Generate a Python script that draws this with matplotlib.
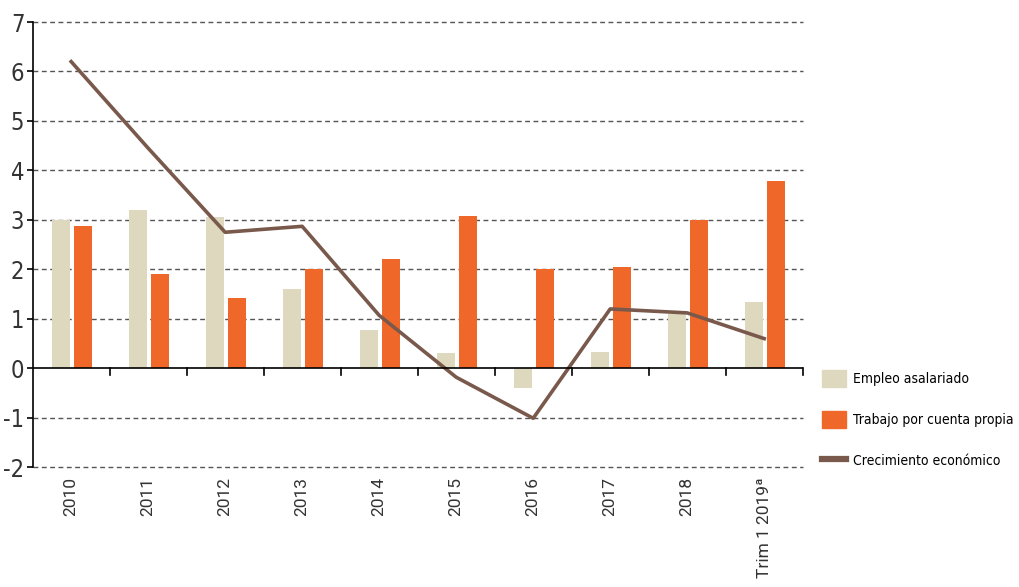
import numpy as np
import matplotlib.pyplot as plt
from matplotlib.patches import Patch
from matplotlib.lines import Line2D

years = ['2010', '2011', '2012', '2013', '2014', '2015', '2016', '2017', '2018', 'Trim 1 2019ª']
empleo = [3.0, 3.2, 3.05, 1.6, 0.78, 0.3, -0.4, 0.33, 1.1, 1.35]
cuenta_propia = [2.87, 1.9, 1.42, 2.0, 2.2, 3.07, 2.0, 2.05, 3.0, 3.78]
crecimiento = [6.2, 4.45, 2.75, 2.87, 1.07, -0.18, -1.01, 1.2, 1.12, 0.6]

c_beige = '#DDD8BE'
c_orange = '#F0672A'
c_brown = '#79594C'

narrow = {'family': 'DejaVu Sans', 'stretch': 'condensed'}

fig = plt.figure(figsize=(10.2, 5.87), dpi=100)
ax = fig.add_axes([0.032, 0.204, 0.755, 0.7585])

x = np.arange(len(years))
w = 0.23
ax.bar(x - 0.13, empleo, width=w, color=c_beige, zorder=2)
ax.bar(x + 0.15, cuenta_propia, width=w, color=c_orange, zorder=2)
ax.plot(x, crecimiento, color=c_brown, linewidth=2.6, zorder=3)

ax.set_xlim(-0.5, len(years) - 0.5)
ax.set_ylim(-2, 7)

# dashed guides at every integer, solid zero line with boundary ticks
for v in range(-2, 8):
    if v != 0:
        ax.axhline(v, color='#555555', linestyle=(0, (3.5, 2.5)), linewidth=1.0,
                   zorder=1, clip_on=False)
ax.axhline(0, color='black', linewidth=1.2, zorder=4)
for b in np.arange(0.5, len(years), 1.0):
    ax.plot([b, b], [0, -0.13], color='black', linewidth=1.2, zorder=4, clip_on=False)

for s in ['top', 'right', 'bottom']:
    ax.spines[s].set_visible(False)
ax.spines['left'].set_linewidth(1.2)

ax.set_yticks(range(-2, 8))
ax.set_yticklabels([str(v) for v in range(-2, 8)], fontsize=17, color='#333333', **narrow)
ax.tick_params(axis='y', length=4, width=1.2, pad=2)

ax.set_xticks(x)
ax.set_xticklabels(years, rotation=90, fontsize=12.5, color='#333333', family='Roboto')
ax.tick_params(axis='x', length=0, pad=7)

handles = [Patch(color=c_beige), Patch(color=c_orange), Line2D([], [], color=c_brown, linewidth=4.5)]
labels = ['Empleo asalariado', 'Trabajo por cuenta propia', 'Crecimiento económico']
fig.legend(handles, labels, loc='upper left', bbox_to_anchor=(0.806, 0.37), frameon=False,
           prop={**narrow, 'size': 10}, borderpad=0, borderaxespad=0,
           handlelength=1.75, handleheight=1.5, handletextpad=0.5, labelspacing=1.75)

fig.savefig('out.png', dpi=100)
